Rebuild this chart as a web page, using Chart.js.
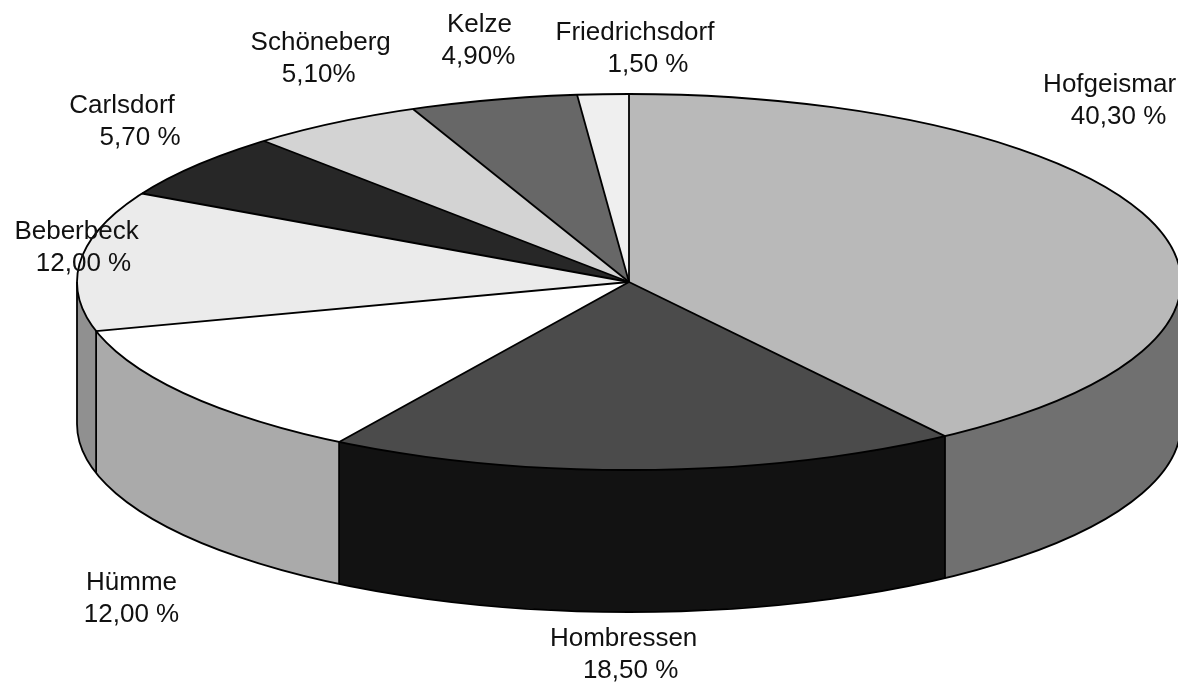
<!DOCTYPE html>
<html><head><meta charset="utf-8">
<script src="https://cdn.jsdelivr.net/npm/chart.js@4.4.1/dist/chart.umd.min.js"></script>
<style>html,body{margin:0;padding:0;background:#fff;} #wrap{width:1178px;height:683px;position:relative;}</style>
</head><body><div id="wrap"><canvas id="c"></canvas></div>
<script>
// ---- data ----
const categories = ['Hofgeismar','Hombressen','Hümme','Beberbeck','Carlsdorf','Schöneberg','Kelze','Friedrichsdorf'];
const shares = [40.3, 18.5, 12.0, 12.0, 5.7, 5.1, 4.9, 1.5];
const percentSuffix = [' %',' %',' %',' %',' %','%','%',' %'];

// ---- styles / layout ----
const topColors  = ['#b9b9b9','#4b4b4b','#ffffff','#ebebeb','#272727','#d3d3d3','#676767','#efefef'];
const sideColors = ['#707070','#121212','#aaaaaa','#909090','#1a1a1a','#9a9a9a','#3a3a3a','#bbbbbb'];
// label offsets relative to the slice's mid-angle rim point: [dx, dy, second-line dx]
const labelOffsets = [[-46,-127,9],[-21,183,7],[-55,203,0],[-4,-15,7],[-74,-45,18],[-14,-66,-2],[-14,-61,-1],[32,-47,13]];
const view = {cx:629, cy:282, rx:552, ry:188, depth:142};
const labelFont = '26px "Liberation Sans", Arial, sans-serif';

function ellPt(a, dy){ return {x: view.cx + view.rx*Math.cos(a), y: view.cy + view.ry*Math.sin(a) + (dy||0)}; }

const pie3d = {
  id: 'pie3d',
  beforeDatasetsDraw(chart){
    const ctx = chart.ctx;
    const arcs = chart.getDatasetMeta(0).data;
    ctx.save();
    arcs.forEach((arc, i) => {
      const a0 = Math.max(arc.startAngle, 0), a1 = Math.min(arc.endAngle, Math.PI);
      if (a1 <= a0) return;
      ctx.beginPath();
      ctx.ellipse(view.cx, view.cy, view.rx, view.ry, 0, a0, a1, false);
      ctx.ellipse(view.cx, view.cy + view.depth, view.rx, view.ry, 0, a1, a0, true);
      ctx.closePath();
      ctx.fillStyle = sideColors[i];
      ctx.fill();
    });
    ctx.restore();
    const a = arcs[0];
    ctx.save();
    ctx.translate(view.cx, view.cy);
    ctx.scale(view.rx / a.outerRadius, view.ry / a.outerRadius);
    ctx.translate(-a.x, -a.y);
  },
  afterDatasetsDraw(chart){
    const ctx = chart.ctx;
    ctx.restore();
    const arcs = chart.getDatasetMeta(0).data;
    ctx.save();
    ctx.strokeStyle = '#000';
    ctx.lineWidth = 1.8;
    ctx.lineJoin = 'round';
    ctx.beginPath();
    ctx.ellipse(view.cx, view.cy, view.rx, view.ry, 0, 0, Math.PI*2);
    ctx.stroke();
    ctx.beginPath();
    ctx.ellipse(view.cx, view.cy + view.depth, view.rx, view.ry, 0, 0, Math.PI);
    ctx.stroke();
    [0, Math.PI].forEach(a => {
      const p = ellPt(a);
      ctx.beginPath(); ctx.moveTo(p.x, p.y); ctx.lineTo(p.x, p.y + view.depth); ctx.stroke();
    });
    arcs.forEach(arc => {
      const p = ellPt(arc.startAngle);
      ctx.beginPath(); ctx.moveTo(view.cx, view.cy); ctx.lineTo(p.x, p.y); ctx.stroke();
      if (Math.sin(arc.startAngle) > 0) {
        ctx.beginPath(); ctx.moveTo(p.x, p.y); ctx.lineTo(p.x, p.y + view.depth); ctx.stroke();
      }
    });
    ctx.font = labelFont;
    ctx.fillStyle = '#111';
    ctx.textAlign = 'center';
    ctx.textBaseline = 'alphabetic';
    arcs.forEach((arc, i) => {
      const mid = (arc.startAngle + arc.endAngle) / 2;
      const p = ellPt(mid);
      const [ox, oy, sx2] = labelOffsets[i];
      const x = p.x + ox, y = p.y + oy;
      ctx.fillText(categories[i], x, y - 16 + 9);
      const pct = shares[i].toFixed(2).replace('.', ',') + percentSuffix[i];
      ctx.fillText(pct, x + sx2, y + 16 + 9);
    });
    ctx.restore();
  }
};

new Chart(document.getElementById('c'), {
  type: 'pie',
  data: {
    labels: categories,
    datasets: [{
      data: shares,
      backgroundColor: topColors,
      borderWidth: 0,
      clip: false
    }]
  },
  options: {
    responsive: true,
    maintainAspectRatio: false,
    animation: false,
    events: [],
    layout: {padding: 0},
    plugins: {legend: {display: false}, tooltip: {enabled: false}, title: {display: false}}
  },
  plugins: [pie3d]
});
</script>
</body></html>
